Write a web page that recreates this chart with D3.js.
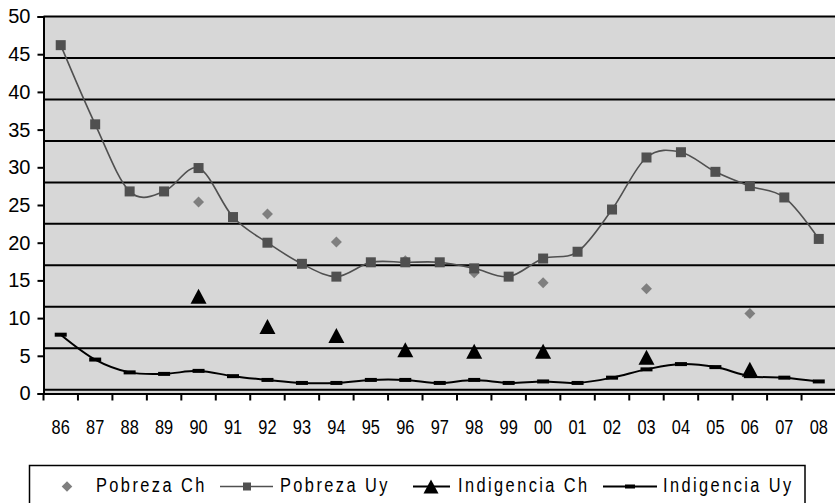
<!DOCTYPE html>
<html>
<head>
<meta charset="utf-8">
<script src="https://cdn.jsdelivr.net/npm/d3@7"></script>
<style>
  body { margin: 0; background: #fff; }
  svg { display: block; }
</style>
</head>
<body>
<svg id="chart"></svg>
<script>
// years on the x axis
const years = ["86","87","88","89","90","91","92","93","94","95","96","97","98","99","00","01","02","03","04","05","06","07","08"];

// Pobreza Uy (line with squares), every year
const pobrezaUy = [46.2, 35.7, 26.8, 26.8, 29.9, 23.4, 20.0, 17.2, 15.5, 17.4, 17.4, 17.4, 16.6, 15.5, 17.9, 18.8, 24.4, 31.3, 32.0, 29.4, 27.5, 26.0, 20.5];

// Indigencia Uy (line with dash markers), every year
const indigenciaUy = [7.8, 4.5, 2.8, 2.6, 3.0, 2.3, 1.8, 1.4, 1.4, 1.8, 1.8, 1.4, 1.8, 1.4, 1.6, 1.4, 2.1, 3.2, 3.9, 3.5, 2.3, 2.1, 1.6];

// Chile survey years only
const chYears = ["90","92","94","96","98","00","03","06"];
const pobrezaCh = [25.4, 23.8, 20.1, 17.6, 16.0, 14.7, 13.9, 10.6];
const indigenciaCh = [12.9, 8.9, 7.7, 5.8, 5.6, 5.6, 4.8, 3.2];

// horizontal grid lines (they sit off the tick values in the original)
const gridValues = [44.5, 39, 33.5, 28, 22.5, 17, 11.5, 6, 0.5];

const seriesNames = ["Pobreza Ch", "Pobreza Uy", "Indigencia Ch", "Indigencia Uy"];

const width = 835;
const height = 503;
const plotLeft = 43.5, plotRight = 836, plotTop = 16.5, plotBottom = 393.5;
const narrow = 0.78; // horizontal squeeze to imitate a narrow face

const svg = d3.select("#chart")
    .attr("width", width)
    .attr("height", height);

const x = d3.scaleBand().domain(years).range([plotLeft, plotRight]);
const y = d3.scaleLinear().domain([0, 50]).range([plotBottom, plotTop]);
const cx = d => x(d) + x.bandwidth() / 2;

// plot background
svg.append("rect")
    .attr("x", plotLeft).attr("y", plotTop)
    .attr("width", width - plotLeft).attr("height", plotBottom - plotTop)
    .attr("fill", "#d7d7d7");

// grid
svg.selectAll("line.grid")
    .data(gridValues)
    .enter().append("line")
    .attr("class", "grid")
    .attr("x1", plotLeft).attr("x2", width)
    .attr("y1", d => y(d)).attr("y2", d => y(d))
    .attr("stroke", "#000")
    .attr("stroke-width", 2);

// top border
svg.append("line")
    .attr("x1", plotLeft).attr("x2", width)
    .attr("y1", plotTop).attr("y2", plotTop)
    .attr("stroke", "#000").attr("stroke-width", 2);

// y axis
const yAxis = svg.append("g")
    .attr("transform", `translate(${plotLeft},0)`)
    .call(d3.axisLeft(y).ticks(10).tickSize(6).tickPadding(7));
yAxis.select(".domain").attr("stroke-width", 2);
yAxis.selectAll(".tick line").attr("stroke-width", 2);
yAxis.selectAll("text")
    .attr("font-family", "'Liberation Sans', Arial, sans-serif")
    .attr("font-size", 20)
    .attr("fill", "#000");

// x axis: labels centred, ticks on the category boundaries
const xAxis = svg.append("g")
    .attr("transform", `translate(0,${plotBottom})`)
    .call(d3.axisBottom(x).tickSize(0).tickPadding(26));
xAxis.select(".domain").attr("stroke-width", 2);
xAxis.selectAll("text")
    .attr("font-family", "'Liberation Sans', Arial, sans-serif")
    .attr("font-size", 21)
    .attr("transform", `scale(${narrow},1)`)
    .attr("fill", "#000");
xAxis.selectAll("line.bound")
    .data(years)
    .enter().append("line")
    .attr("class", "bound")
    .attr("x1", d => x(d)).attr("x2", d => x(d))
    .attr("y1", 0).attr("y2", 7)
    .attr("stroke", "#000").attr("stroke-width", 2);

const smooth = d3.line()
    .x((d, i) => cx(years[i]))
    .y(d => y(d))
    .curve(d3.curveCardinal.tension(0));

// Pobreza Uy
svg.append("path")
    .attr("d", smooth(pobrezaUy))
    .attr("fill", "none")
    .attr("stroke", "#505050")
    .attr("stroke-width", 1.6);

// Indigencia Uy
svg.append("path")
    .attr("d", smooth(indigenciaUy))
    .attr("fill", "none")
    .attr("stroke", "#000")
    .attr("stroke-width", 2);

svg.selectAll("rect.dash")
    .data(indigenciaUy)
    .enter().append("rect")
    .attr("class", "dash")
    .attr("x", (d, i) => cx(years[i]) - 6)
    .attr("y", d => y(d) - 2)
    .attr("width", 12).attr("height", 4)
    .attr("fill", "#000");

// Pobreza Ch diamonds
svg.selectAll("path.diamond")
    .data(pobrezaCh)
    .enter().append("path")
    .attr("class", "diamond")
    .attr("d", d3.symbol(d3.symbolSquare, 60)())
    .attr("transform", (d, i) => `translate(${cx(chYears[i])},${y(d)}) rotate(45)`)
    .attr("fill", "#7f7f7f");

// Pobreza Uy squares
svg.selectAll("rect.sq")
    .data(pobrezaUy)
    .enter().append("rect")
    .attr("class", "sq")
    .attr("x", (d, i) => cx(years[i]) - 5)
    .attr("y", d => y(d) - 5)
    .attr("width", 10).attr("height", 10)
    .attr("fill", "#505050");

// Indigencia Ch triangles
const tri = (w, h) => `M0,${-h / 2}L${w / 2},${h / 2}L${-w / 2},${h / 2}Z`;
svg.selectAll("path.tri")
    .data(indigenciaCh)
    .enter().append("path")
    .attr("class", "tri")
    .attr("d", tri(16, 15))
    .attr("transform", (d, i) => `translate(${cx(chYears[i])},${y(d)})`)
    .attr("fill", "#000");

// legend
const legend = svg.append("g");
legend.append("rect")
    .attr("x", 29.5).attr("y", 465.5)
    .attr("width", 775.5).attr("height", 60)
    .attr("fill", "#fff")
    .attr("stroke", "#000").attr("stroke-width", 1.5);

const ly = 486.5;
const textX = [96, 280, 458, 663];
const sampleX = [67, 247, 431, 630];

legend.append("path")
    .attr("d", d3.symbol(d3.symbolSquare, 56)())
    .attr("transform", `translate(${sampleX[0]},${ly}) rotate(45)`)
    .attr("fill", "#7f7f7f");

[[220, 273, "#505050", 1.6], [413, 450, "#000", 2], [603, 657, "#000", 2]].forEach(([a, b, c, w]) => {
    legend.append("line")
        .attr("x1", a).attr("x2", b)
        .attr("y1", ly).attr("y2", ly)
        .attr("stroke", c).attr("stroke-width", w);
});
legend.append("rect")
    .attr("x", sampleX[1] - 4).attr("y", ly - 4)
    .attr("width", 8).attr("height", 8)
    .attr("fill", "#505050");
legend.append("path")
    .attr("d", tri(15, 14))
    .attr("transform", `translate(${sampleX[2]},${ly})`)
    .attr("fill", "#000");
legend.append("rect")
    .attr("x", sampleX[3] - 5).attr("y", ly - 2)
    .attr("width", 10).attr("height", 4)
    .attr("fill", "#000");

legend.selectAll("text")
    .data(seriesNames)
    .enter().append("text")
    .attr("transform", (d, i) => `translate(${textX[i]},492) scale(${narrow},1)`)
    .attr("font-family", "'Liberation Sans', Arial, sans-serif")
    .attr("font-size", 21)
    .attr("letter-spacing", 3.1)
    .attr("fill", "#000")
    .text(d => d);
</script>
</body>
</html>
